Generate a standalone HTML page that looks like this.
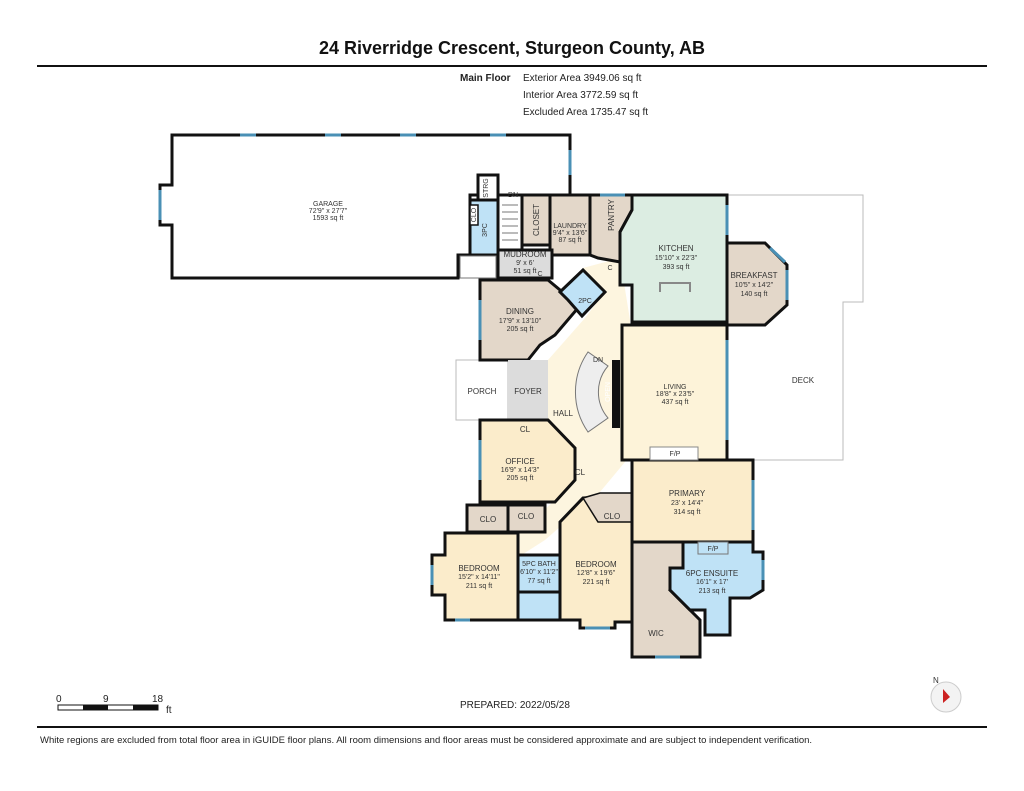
<!DOCTYPE html>
<html><head><meta charset="utf-8"><style>
html,body{margin:0;padding:0;background:#fff;}
svg{display:block;font-family:"Liberation Sans",Arial,sans-serif;}
</style></head><body>
<svg width="1024" height="791" viewBox="0 0 1024 791" xmlns="http://www.w3.org/2000/svg">
<rect width="1024" height="791" fill="#fff"/>
<text x="512" y="54" font-size="18" font-weight="bold" text-anchor="middle" fill="#111">24 Riverridge Crescent, Sturgeon County, AB</text>
<line x1="37" y1="66" x2="987" y2="66" stroke="#111" stroke-width="2"/>
<g font-size="10" fill="#222">
<text x="460" y="81" font-weight="bold">Main Floor</text>
<text x="523" y="81">Exterior Area 3949.06 sq ft</text>
<text x="523" y="98">Interior Area 3772.59 sq ft</text>
<text x="523" y="115">Excluded Area 1735.47 sq ft</text>
</g>

<path d="M727,195 L863,195 L863,302 L843,302 L843,460 L727,460" fill="none" stroke="#bbb" stroke-width="1"/>
<rect x="456" y="360" width="52" height="60" fill="#fff" stroke="#bbb"/>
<path d="M583,268 L620,258 L630,320 L625,462 L600,492 L545,540 L520,556 L500,550 L575,482 L575,452 L548,420 L548,360 L585,318 L605,292 Z" fill="#fdf5df"/>
<path d="M172,135 L570,135 L570,195 L470,195 L470,255 L458,255 L458,278 L172,278 L172,225 L160,225 L160,185 L172,185 Z" fill="#fff" stroke="#111" stroke-width="3"/>
<g stroke="#111" stroke-width="3">
<rect x="470" y="200" width="28" height="55" fill="#bfe2f6"/>
<rect x="478" y="175" width="20" height="25" fill="#fff"/>
<rect x="470" y="205" width="8" height="20" fill="#fff" stroke-width="1.5"/>
<rect x="498" y="195" width="24" height="55" fill="#fff"/>
<rect x="522" y="195" width="28" height="50" fill="#e3d7c9"/>
<path d="M550,195 L590,195 L590,255 L550,255 L550,245 Z" fill="#e3d7c9"/>
<path d="M590,195 L632,195 L632,210 L620,232 L620,262 L598,258 L590,255 Z" fill="#e3d7c9"/>
<path d="M632,195 L727,195 L727,322 L632,322 L632,285 L620,285 L620,232 L632,210 Z" fill="#dcede2"/>
<path d="M727,243 L765,243 L787,265 L787,305 L765,325 L727,325 Z" fill="#e3d7c9"/>
<rect x="498" y="250" width="54" height="28" fill="#dcdcdc"/>
<path d="M480,280 L548,280 L560,290 L578,308 L555,335 L540,345 L528,360 L480,360 Z" fill="#e3d7c9"/>
<path d="M560,292 L583,270 L605,292 L582,316 L575,308 L568,300 Z" fill="#bfe2f6"/>
<path d="M622,325 L727,325 L727,460 L622,460 L622,332 Z" fill="#fdf3d9"/>
<rect x="508" y="360" width="40" height="60" fill="#dcdcdc" stroke-width="0"/>
<path d="M480,420 L548,420 L575,448 L575,480 L555,502 L480,502 Z" fill="#fbeccb"/>
<rect x="467" y="505" width="41" height="27" fill="#e3d7c9"/>
<rect x="508" y="505" width="37" height="27" fill="#e3d7c9"/>
<path d="M445,533 L518,533 L518,620 L445,620 L445,595 L432,595 L432,555 L445,555 Z" fill="#fbeccb"/>
<rect x="518" y="555" width="42" height="37" fill="#bfe2f6"/>
<rect x="518" y="592" width="42" height="28" fill="#bfe2f6"/>
<path d="M583,498 L632,495 L632,622 L615,622 L615,628 L580,628 L580,620 L560,620 L560,522 Z" fill="#fbeccb"/>
<path d="M583,498 L600,493 L632,493 L632,522 L598,522 Z" fill="#e3d7c9" stroke-width="1.5"/>
<rect x="632" y="460" width="121" height="82" fill="#fbeccb"/>
<path d="M632,542 L683,542 L683,568 L670,590 L700,620 L700,657 L632,657 Z" fill="#e3d7c9"/>
<path d="M683,542 L753,542 L753,552 L763,552 L763,590 L750,598 L730,598 L730,635 L705,635 L705,610 L690,610 L670,590 L670,568 L683,568 Z" fill="#bfe2f6"/>
</g>
<g stroke="#777" stroke-width="1">
<line x1="502" y1="205" x2="518" y2="205"/><line x1="502" y1="212" x2="518" y2="212"/><line x1="502" y1="219" x2="518" y2="219"/><line x1="502" y1="226" x2="518" y2="226"/><line x1="502" y1="233" x2="518" y2="233"/><line x1="502" y1="240" x2="518" y2="240"/>
<rect x="460" y="256" width="36" height="22" fill="#fff"/>
<path d="M588,352 A70,70 0 0 0 588,432 L608,418 A40,40 0 0 1 608,366 Z" fill="#eee"/>
</g>
<rect x="612" y="360" width="8" height="68" fill="#111"/>
<rect x="650" y="447" width="48" height="13" fill="#fff" stroke="#888"/>
<rect x="698" y="542" width="30" height="12" fill="#bfe2f6" stroke="#777"/>
<path d="M660,292 L660,283 L690,283 L690,292" fill="none" stroke="#888" stroke-width="2"/>
<g stroke="#4a90b5" stroke-width="3">
<line x1="160" y1="190" x2="160" y2="220"/><line x1="240" y1="135" x2="256" y2="135"/><line x1="325" y1="135" x2="341" y2="135"/><line x1="400" y1="135" x2="416" y2="135"/><line x1="490" y1="135" x2="506" y2="135"/><line x1="570" y1="150" x2="570" y2="175"/>
<line x1="600" y1="195" x2="625" y2="195"/><line x1="727" y1="205" x2="727" y2="235"/><line x1="727" y1="340" x2="727" y2="440"/><line x1="770" y1="248" x2="785" y2="262"/><line x1="787" y1="270" x2="787" y2="300"/><line x1="480" y1="300" x2="480" y2="340"/><line x1="480" y1="440" x2="480" y2="480"/><line x1="432" y1="565" x2="432" y2="585"/><line x1="753" y1="480" x2="753" y2="530"/><line x1="585" y1="628" x2="610" y2="628"/><line x1="655" y1="657" x2="680" y2="657"/><line x1="455" y1="620" x2="470" y2="620"/><line x1="763" y1="560" x2="763" y2="580"/>
</g>
<g fill="#333" text-anchor="middle" font-size="7">
<text x="328" y="206">GARAGE</text><text x="328" y="213">72'9" x 27'7"</text><text x="328" y="220">1593 sq ft</text>
<text x="570" y="228">LAUNDRY</text><text x="570" y="235">9'4" x 13'6"</text><text x="570" y="242">87 sq ft</text>
<text x="676" y="251" font-size="8">KITCHEN</text><text x="676" y="260">15'10" x 22'3"</text><text x="676" y="269">393 sq ft</text>
<text x="754" y="278" font-size="8">BREAKFAST</text><text x="754" y="287">10'5" x 14'2"</text><text x="754" y="296">140 sq ft</text>
<text x="525" y="257" font-size="8">MUDROOM</text><text x="525" y="265">9' x 6'</text><text x="525" y="273">51 sq ft</text>
<text x="520" y="314" font-size="8">DINING</text><text x="520" y="323">17'9" x 13'10"</text><text x="520" y="331">205 sq ft</text>
<text x="585" y="303">2PC</text>
<text x="675" y="389">LIVING</text><text x="675" y="396">18'8" x 23'5"</text><text x="675" y="404">437 sq ft</text>
<text x="482" y="394" font-size="8">PORCH</text><text x="528" y="394" font-size="8">FOYER</text><text x="563" y="416" font-size="8">HALL</text><text x="803" y="383" font-size="8">DECK</text>
<text x="675" y="456">F/P</text><text x="713" y="551">F/P</text>
<text x="520" y="464" font-size="8">OFFICE</text><text x="520" y="472">16'9" x 14'3"</text><text x="520" y="480">205 sq ft</text>
<text x="687" y="496" font-size="8">PRIMARY</text><text x="687" y="505">23' x 14'4"</text><text x="687" y="514">314 sq ft</text>
<text x="479" y="571" font-size="8">BEDROOM</text><text x="479" y="579">15'2" x 14'11"</text><text x="479" y="588">211 sq ft</text>
<text x="539" y="566">5PC BATH</text><text x="539" y="574">6'10" x 11'2"</text><text x="539" y="583">77 sq ft</text>
<text x="596" y="567" font-size="8">BEDROOM</text><text x="596" y="575">12'8" x 19'6"</text><text x="596" y="584">221 sq ft</text>
<text x="712" y="576" font-size="8">6PC ENSUITE</text><text x="712" y="584">16'1" x 17'</text><text x="712" y="593">213 sq ft</text>
<text x="656" y="636" font-size="8">WIC</text>
<text x="488" y="522" font-size="8">CLO</text><text x="526" y="519" font-size="8">CLO</text><text x="612" y="519" font-size="8">CLO</text>
<text x="525" y="432" font-size="8">CL</text><text x="580" y="475" font-size="8">CL</text>
<text x="513" y="197">DN</text><text x="598" y="362">DN</text>
<text x="540" y="276">C</text><text x="610" y="270">C</text>
<text x="0" y="0" transform="translate(539,220) rotate(-90)" font-size="8">CLOSET</text>
<text x="0" y="0" transform="translate(614,215) rotate(-90)" font-size="8">PANTRY</text>
<text x="0" y="0" transform="translate(488,188) rotate(-90)">STRG</text>
<text x="0" y="0" transform="translate(476,215) rotate(-90)">CLO</text>
<text x="0" y="0" transform="translate(487,230) rotate(-90)">3PC</text>
<text x="0" y="0" transform="translate(610,392) rotate(-90)" fill="#fff">OPEN</text>
</g>
<g font-size="10" fill="#222">
<text x="56" y="702">0</text><text x="103" y="702">9</text><text x="152" y="702">18</text><text x="166" y="713">ft</text>
<rect x="58" y="705" width="100" height="5" fill="#fff" stroke="#111"/>
<rect x="83" y="705" width="25" height="5" fill="#111"/><rect x="133" y="705" width="25" height="5" fill="#111"/>
<text x="460" y="708">PREPARED: 2022/05/28</text>
</g>
<circle cx="946" cy="697" r="15" fill="#f3f3f3" stroke="#ccc"/>
<path d="M943,689 L950,697 L943,703 Z" fill="#c22"/>
<text x="933" y="683" font-size="8" fill="#333">N</text>
<line x1="37" y1="727" x2="987" y2="727" stroke="#111" stroke-width="2"/>
<text x="40" y="743" font-size="9.5" fill="#222">White regions are excluded from total floor area in iGUIDE floor plans. All room dimensions and floor areas must be considered approximate and are subject to independent verification.</text>
</svg>
</body></html>
